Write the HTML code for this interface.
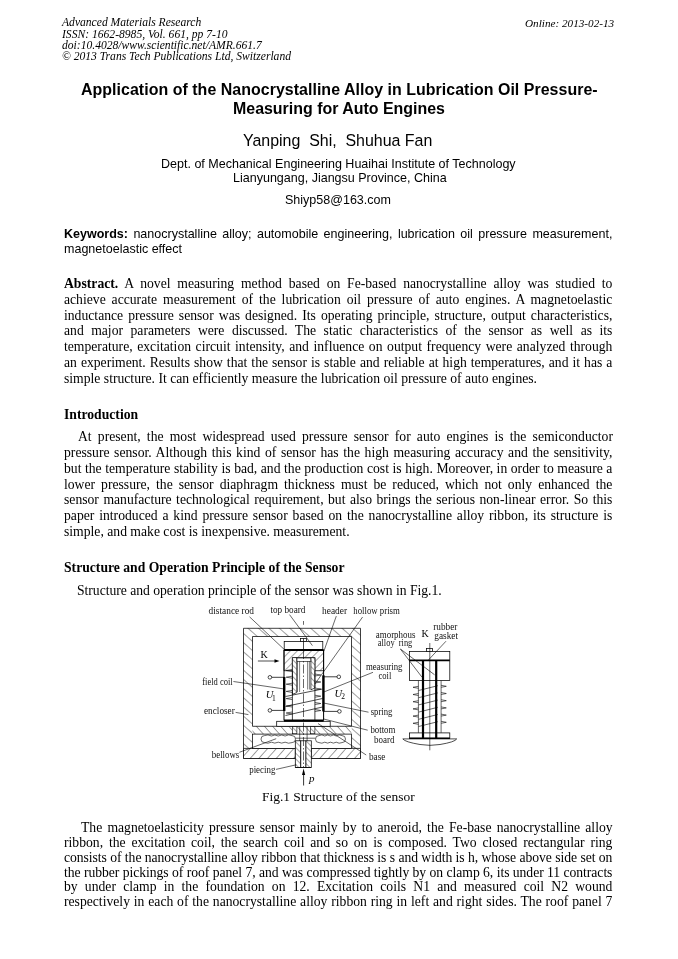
<!DOCTYPE html>
<html><head><meta charset="utf-8"><style>
html,body{margin:0;padding:0;background:#fff;}
body{width:678px;height:959px;position:relative;overflow:hidden;color:#000;}
.l{position:absolute;white-space:nowrap;will-change:transform;}
.l b{font-weight:bold;}
svg{position:absolute;left:0;top:0;}
</style></head><body>
<div class="l" id="l0" style="top:14.79px;font-family:'Liberation Serif', serif;font-size:11.6px;line-height:16px;left:62.20px;font-style:italic">Advanced Materials Research</div>
<div class="l" id="l1" style="top:26.69px;font-family:'Liberation Serif', serif;font-size:11.6px;line-height:16px;left:62.20px;font-style:italic">ISSN: 1662-8985, Vol. 661, pp 7-10</div>
<div class="l" id="l2" style="top:37.79px;font-family:'Liberation Serif', serif;font-size:11.6px;line-height:16px;left:62.20px;font-style:italic">doi:10.4028/www.scientific.net/AMR.661.7</div>
<div class="l" id="l3" style="top:48.69px;font-family:'Liberation Serif', serif;font-size:11.6px;line-height:16px;left:62.20px;font-style:italic">&copy; 2013 Trans Tech Publications Ltd, Switzerland</div>
<div class="l" id="l4" style="top:14.92px;font-family:'Liberation Serif', serif;font-size:11.2px;line-height:16px;right:63.70px;font-style:italic">Online: 2013-02-13</div>
<div class="l" id="l5" style="top:82.27px;font-family:'Liberation Sans', sans-serif;font-size:15.95px;line-height:16px;left:81.20px;font-weight:bold;letter-spacing:0.04px">Application of the Nanocrystalline Alloy in Lubrication Oil Pressure-</div>
<div class="l" id="l6" style="top:101.17px;font-family:'Liberation Sans', sans-serif;font-size:15.95px;line-height:16px;left:233.20px;font-weight:bold">Measuring for Auto Engines</div>
<div class="l" id="l7" style="top:132.87px;font-family:'Liberation Sans', sans-serif;font-size:15.95px;line-height:16px;left:242.90px;">Yanping&nbsp; Shi,&nbsp; Shuhua Fan</div>
<div class="l" id="l8" style="top:156.36px;font-family:'Liberation Sans', sans-serif;font-size:12.53px;line-height:16px;left:160.60px;">Dept. of Mechanical Engineering Huaihai Institute of Technology</div>
<div class="l" id="l9" style="top:170.16px;font-family:'Liberation Sans', sans-serif;font-size:12.53px;line-height:16px;left:232.50px;">Lianyungang, Jiangsu Province, China</div>
<div class="l" id="l10" style="top:192.16px;font-family:'Liberation Sans', sans-serif;font-size:12.53px;line-height:16px;left:285.40px;">Shiyp58@163.com</div>
<div class="l" id="l11" style="top:226.36px;font-family:'Liberation Sans', sans-serif;font-size:12.53px;line-height:16px;left:64.40px;width:548.40px;text-align:justify;text-align-last:justify;"><b>Keywords:</b> nanocrystalline alloy; automobile engineering, lubrication oil pressure measurement,</div>
<div class="l" id="l12" style="top:241.26px;font-family:'Liberation Sans', sans-serif;font-size:12.53px;line-height:16px;left:64.40px;">magnetoelastic effect</div>
<div class="l" id="l13" style="top:276.19px;font-family:'Liberation Serif', serif;font-size:13.668px;line-height:16px;left:64.40px;width:548.40px;text-align:justify;text-align-last:justify;"><b>Abstract.</b> A novel measuring method based on Fe-based nanocrystalline alloy was studied to</div>
<div class="l" id="l14" style="top:291.94px;font-family:'Liberation Serif', serif;font-size:13.668px;line-height:16px;left:64.40px;width:548.40px;text-align:justify;text-align-last:justify;">achieve accurate measurement of the lubrication oil pressure of auto engines. A magnetoelastic</div>
<div class="l" id="l15" style="top:307.69px;font-family:'Liberation Serif', serif;font-size:13.668px;line-height:16px;left:64.40px;width:548.40px;text-align:justify;text-align-last:justify;">inductance pressure sensor was designed. Its operating principle, structure, output characteristics,</div>
<div class="l" id="l16" style="top:323.44px;font-family:'Liberation Serif', serif;font-size:13.668px;line-height:16px;left:64.40px;width:548.40px;text-align:justify;text-align-last:justify;">and major parameters were discussed. The static characteristics of the sensor as well as its</div>
<div class="l" id="l17" style="top:339.19px;font-family:'Liberation Serif', serif;font-size:13.668px;line-height:16px;left:64.40px;width:548.40px;text-align:justify;text-align-last:justify;">temperature, excitation circuit intensity, and influence on output frequency were analyzed through</div>
<div class="l" id="l18" style="top:354.94px;font-family:'Liberation Serif', serif;font-size:13.668px;line-height:16px;left:64.40px;width:548.40px;text-align:justify;text-align-last:justify;">an experiment. Results show that the sensor is stable and reliable at high temperatures, and it has a</div>
<div class="l" id="l19" style="top:370.69px;font-family:'Liberation Serif', serif;font-size:13.668px;line-height:16px;left:64.40px;width:548.40px;">simple structure. It can efficiently measure the lubrication oil pressure of auto engines.</div>
<div class="l" id="l20" style="top:407.09px;font-family:'Liberation Serif', serif;font-size:13.668px;line-height:16px;left:64.40px;"><b>Introduction</b></div>
<div class="l" id="l21" style="top:429.19px;font-family:'Liberation Serif', serif;font-size:13.668px;line-height:16px;left:77.80px;width:535.00px;text-align:justify;text-align-last:justify;">At present, the most widespread used pressure sensor for auto engines is the semiconductor</div>
<div class="l" id="l22" style="top:444.96px;font-family:'Liberation Serif', serif;font-size:13.668px;line-height:16px;left:64.40px;width:548.40px;text-align:justify;text-align-last:justify;">pressure sensor. Although this kind of sensor has the high measuring accuracy and the sensitivity,</div>
<div class="l" id="l23" style="top:460.73px;font-family:'Liberation Serif', serif;font-size:13.668px;line-height:16px;left:64.40px;width:548.40px;text-align:justify;text-align-last:justify;">but the temperature stability is bad, and the production cost is high. Moreover, in order to measure a</div>
<div class="l" id="l24" style="top:476.50px;font-family:'Liberation Serif', serif;font-size:13.668px;line-height:16px;left:64.40px;width:548.40px;text-align:justify;text-align-last:justify;">lower pressure, the sensor diaphragm thickness must be reduced, which not only enhanced the</div>
<div class="l" id="l25" style="top:492.27px;font-family:'Liberation Serif', serif;font-size:13.668px;line-height:16px;left:64.40px;width:548.40px;text-align:justify;text-align-last:justify;">sensor manufacture technological requirement, but also brings the serious non-linear error. So this</div>
<div class="l" id="l26" style="top:508.04px;font-family:'Liberation Serif', serif;font-size:13.668px;line-height:16px;left:64.40px;width:548.40px;text-align:justify;text-align-last:justify;">paper introduced a kind pressure sensor based on the nanocrystalline alloy ribbon, its structure is</div>
<div class="l" id="l27" style="top:523.81px;font-family:'Liberation Serif', serif;font-size:13.668px;line-height:16px;left:64.40px;width:548.40px;">simple, and make cost is inexpensive. measurement.</div>
<div class="l" id="l28" style="top:560.19px;font-family:'Liberation Serif', serif;font-size:13.668px;line-height:16px;left:64.40px;"><b>Structure and Operation Principle of the Sensor</b></div>
<div class="l" id="l29" style="top:582.99px;font-family:'Liberation Serif', serif;font-size:13.668px;line-height:16px;left:77.20px;letter-spacing:-0.025px">Structure and operation principle of the sensor was shown in Fig.1.</div>
<div class="l" id="l30" style="top:789.06px;font-family:'Liberation Serif', serif;font-size:13.45px;line-height:16px;left:261.90px;">Fig.1 Structure of the sensor</div>
<div class="l" id="l31" style="top:820.39px;font-family:'Liberation Serif', serif;font-size:13.668px;line-height:16px;left:81.20px;width:531.60px;text-align:justify;text-align-last:justify;">The magnetoelasticity pressure sensor mainly by to aneroid, the Fe-base nanocrystalline alloy</div>
<div class="l" id="l32" style="top:835.11px;font-family:'Liberation Serif', serif;font-size:13.668px;line-height:16px;left:64.40px;width:548.40px;text-align:justify;text-align-last:justify;">ribbon, the excitation coil, the search coil and so on is composed. Two closed rectangular ring</div>
<div class="l" id="l33" style="top:849.83px;font-family:'Liberation Serif', serif;font-size:13.668px;line-height:16px;left:64.40px;width:548.40px;text-align:justify;text-align-last:justify;letter-spacing:-0.055px;">consists of the nanocrystalline alloy ribbon that thickness is s and width is h, whose above side set on</div>
<div class="l" id="l34" style="top:864.55px;font-family:'Liberation Serif', serif;font-size:13.668px;line-height:16px;left:64.40px;width:548.40px;text-align:justify;text-align-last:justify;letter-spacing:-0.05px;">the rubber pickings of roof panel 7, and was compressed tightly by on clamp 6, its under 11 contracts</div>
<div class="l" id="l35" style="top:879.27px;font-family:'Liberation Serif', serif;font-size:13.668px;line-height:16px;left:64.40px;width:548.40px;text-align:justify;text-align-last:justify;">by under clamp in the foundation on 12. Excitation coils N1 and measured coil N2 wound</div>
<div class="l" id="l36" style="top:893.99px;font-family:'Liberation Serif', serif;font-size:13.668px;line-height:16px;left:64.40px;width:548.40px;text-align:justify;text-align-last:justify;">respectively in each of the nanocrystalline alloy ribbon ring in left and right sides. The roof panel 7</div>
<svg width="678" height="959" viewBox="0 0 678 959" font-family="Liberation Serif, serif" style="position:absolute;left:0;top:0"><defs>
<pattern id="hb" patternUnits="userSpaceOnUse" width="6.9" height="6.9" patternTransform="rotate(-48.7) translate(1.7,0)"><rect width="6.9" height="6.9" fill="#fff"/><line x1="0" y1="-1" x2="0" y2="7.9" stroke="#000" stroke-width="0.75"/></pattern>
<pattern id="hf" patternUnits="userSpaceOnUse" width="6.49" height="6.49" patternTransform="rotate(41.8) translate(3.57,0)"><rect width="6.49" height="6.49" fill="#fff"/><line x1="0" y1="-1" x2="0" y2="7.49" stroke="#000" stroke-width="0.75"/></pattern>
<pattern id="hp" patternUnits="userSpaceOnUse" width="6.02" height="6.02" patternTransform="rotate(-42) translate(5.1,0)"><rect width="6.02" height="6.02" fill="#fff"/><line x1="0" y1="-1" x2="0" y2="7.02" stroke="#000" stroke-width="0.75"/></pattern>
<pattern id="hs" patternUnits="userSpaceOnUse" width="4" height="4" patternTransform="rotate(-45)"><rect width="4" height="4" fill="#fff"/><line x1="0" y1="0" x2="0" y2="4" stroke="#000" stroke-width="0.7"/></pattern>
<pattern id="hsf" patternUnits="userSpaceOnUse" width="5" height="5" patternTransform="rotate(45)"><rect width="5" height="5" fill="#fff"/><line x1="0" y1="0" x2="0" y2="5" stroke="#000" stroke-width="0.7"/></pattern>
</defs>
<path d="M243.5,628.3 H360.5 V748.4 H351.5 V636.5 H252.5 V748.4 H243.5 Z" fill="url(#hb)" stroke="none"/>
<path d="M252.5,726.3 H351.5 V734.1 H252.5 Z" fill="url(#hp)" stroke="none"/>
<path d="M243.5,628.3 H360.5 V758.5 H243.5 Z M252.5,636.5 H351.5 V726.3 H252.5 Z" fill="none" stroke="#000" stroke-width="0.75"/>
<path d="M243.5,748.4 H295.3 V758.5 H243.5 Z M311.3,748.4 H360.5 V758.5 H311.3 Z" fill="url(#hf)" stroke="#000" stroke-width="0.75"/>
<rect x="252.5" y="734.1" width="99.00" height="14.30" fill="#fff" stroke="#000" stroke-width="0.75" />
<line x1="295.0" y1="738.2" x2="315.5" y2="738.2" stroke="#000" stroke-width="0.6" />
<path d="M264.50,735.60 Q267.94,734.00 271.38,736.00 Q274.81,734.00 278.25,736.00 Q281.69,734.00 285.12,736.00 Q288.56,734.00 292.00,735.60 A3.50,3.50 0 0 1 292.00,742.60 Q288.56,744.00 285.12,742.20 Q281.69,744.00 278.25,742.20 Q274.81,744.00 271.38,742.20 Q267.94,744.00 264.50,742.60 A3.50,3.50 0 0 1 264.50,735.60 Z" fill="#fff" stroke="#000" stroke-width="0.6"/>
<path d="M319.00,735.60 Q321.88,734.00 324.75,736.00 Q327.62,734.00 330.50,736.00 Q333.38,734.00 336.25,736.00 Q339.12,734.00 342.00,735.60 A3.50,3.50 0 0 1 342.00,742.60 Q339.12,744.00 336.25,742.20 Q333.38,744.00 330.50,742.20 Q327.62,744.00 324.75,742.20 Q321.88,744.00 319.00,742.60 A3.50,3.50 0 0 1 319.00,735.60 Z" fill="#fff" stroke="#000" stroke-width="0.6"/>
<rect x="295.3" y="740.8" width="5.5" height="26.7" fill="url(#hs)" stroke="#000" stroke-width="0.75"/>
<rect x="305.8" y="740.8" width="5.5" height="26.7" fill="url(#hs)" stroke="#000" stroke-width="0.75"/>
<rect x="300.8" y="740.8" width="5.00" height="26.70" fill="#fff" stroke="#000" stroke-width="0.75" />
<line x1="295.3" y1="767.5" x2="311.3" y2="767.5" stroke="#000" stroke-width="0.75" />
<line x1="299.7" y1="726.3" x2="299.7" y2="741.0" stroke="#000" stroke-width="0.6" />
<line x1="307.1" y1="726.3" x2="307.1" y2="741.0" stroke="#000" stroke-width="0.6" />
<rect x="292.3" y="726.5" width="4.6" height="7.2" fill="url(#hs)" stroke="#000" stroke-width="0.6"/>
<rect x="310.3" y="726.5" width="4.6" height="7.2" fill="url(#hs)" stroke="#000" stroke-width="0.6"/>
<rect x="276.7" y="721.3" width="53.50" height="5.00" fill="#fff" stroke="#000" stroke-width="0.75" />
<rect x="284.2" y="641.5" width="38.60" height="8.50" fill="#fff" stroke="#000" stroke-width="0.75" />
<rect x="300.6" y="638.5" width="5.90" height="3.00" fill="#fff" stroke="#000" stroke-width="0.75" />
<path d="M284.0,650 H323.6 V670.7 H314.9 V657.6 H292.4 V670.7 H284.0 Z" fill="url(#hsf)" stroke="#000" stroke-width="0.75"/>
<path d="M292.4,657.6 H296.8 V692.5 L292.4,694.5 Z" fill="url(#hs)" stroke="#000" stroke-width="0.7"/>
<path d="M310.9,657.6 H314.9 V688.0 L310.9,689.8 Z" fill="url(#hs)" stroke="#000" stroke-width="0.7"/>
<rect x="297.0" y="658.0" width="13.80" height="3.30" fill="#fff" stroke="#000" stroke-width="0.6" />
<line x1="297.4" y1="661.3" x2="297.4" y2="692.0" stroke="#000" stroke-width="0.5" />
<line x1="299.6" y1="661.3" x2="299.6" y2="692.0" stroke="#000" stroke-width="0.5" />
<line x1="307.6" y1="661.3" x2="307.6" y2="689.5" stroke="#000" stroke-width="0.5" />
<line x1="309.4" y1="661.3" x2="309.4" y2="689.5" stroke="#000" stroke-width="0.5" />
<line x1="292.4" y1="670.7" x2="292.4" y2="720.6" stroke="#000" stroke-width="0.75" />
<line x1="314.9" y1="670.7" x2="314.9" y2="720.6" stroke="#000" stroke-width="0.75" />
<line x1="285.5" y1="696.5" x2="322.5" y2="689.0" stroke="#000" stroke-width="0.7" />
<line x1="285.5" y1="706.5" x2="322.5" y2="698.5" stroke="#000" stroke-width="0.7" />
<line x1="285.5" y1="715.5" x2="322.5" y2="707.0" stroke="#000" stroke-width="0.7" />
<path d="M292.2,669.5 L286.2,670.5 L292.2,671.5" fill="none" stroke="#000" stroke-width="0.6"/>
<path d="M292.2,676.2 L286.2,677.2 L292.2,678.2" fill="none" stroke="#000" stroke-width="0.6"/>
<path d="M292.2,683.2 L286.2,684.2 L292.2,685.2" fill="none" stroke="#000" stroke-width="0.6"/>
<path d="M292.2,690.4 L286.2,691.4 L292.2,692.4" fill="none" stroke="#000" stroke-width="0.6"/>
<path d="M292.2,697.6 L286.2,698.6 L292.2,699.6" fill="none" stroke="#000" stroke-width="0.6"/>
<path d="M292.2,705.0 L286.2,706.0 L292.2,707.0" fill="none" stroke="#000" stroke-width="0.6"/>
<path d="M292.2,712.0 L286.2,713.0 L292.2,714.0" fill="none" stroke="#000" stroke-width="0.6"/>
<path d="M314.9,674.0 L320.8,675.0 L314.9,676.0" fill="none" stroke="#000" stroke-width="0.6"/>
<path d="M314.9,681.0 L320.8,682.0 L314.9,683.0" fill="none" stroke="#000" stroke-width="0.6"/>
<path d="M314.9,688.0 L320.8,689.0 L314.9,690.0" fill="none" stroke="#000" stroke-width="0.6"/>
<path d="M314.9,695.2 L320.8,696.2 L314.9,697.2" fill="none" stroke="#000" stroke-width="0.6"/>
<path d="M314.9,702.5 L320.8,703.5 L314.9,704.5" fill="none" stroke="#000" stroke-width="0.6"/>
<path d="M314.9,709.5 L320.8,710.5 L314.9,711.5" fill="none" stroke="#000" stroke-width="0.6"/>
<line x1="284.0" y1="650.0" x2="323.6" y2="650.0" stroke="#000" stroke-width="2.2" />
<line x1="284.0" y1="720.6" x2="323.6" y2="720.6" stroke="#000" stroke-width="2.4" />
<line x1="284.0" y1="650.0" x2="284.0" y2="720.6" stroke="#000" stroke-width="1.0" />
<line x1="323.6" y1="650.0" x2="323.6" y2="720.6" stroke="#000" stroke-width="1.0" />
<line x1="284.2" y1="677.0" x2="284.2" y2="711.0" stroke="#000" stroke-width="2.4" />
<line x1="323.40000000000003" y1="675.3" x2="323.40000000000003" y2="711.4" stroke="#000" stroke-width="2.4" />
<line x1="269.9" y1="677.3" x2="284.0" y2="677.3" stroke="#000" stroke-width="0.75" />
<line x1="269.9" y1="710.4" x2="284.0" y2="710.4" stroke="#000" stroke-width="0.75" />
<line x1="323.6" y1="676.8" x2="338.8" y2="676.8" stroke="#000" stroke-width="0.75" />
<line x1="323.6" y1="711.4" x2="339.4" y2="711.4" stroke="#000" stroke-width="0.75" />
<circle cx="269.9" cy="677.3" r="1.8" fill="#fff" stroke="#000" stroke-width="0.7"/>
<circle cx="269.9" cy="710.4" r="1.8" fill="#fff" stroke="#000" stroke-width="0.7"/>
<circle cx="338.8" cy="676.8" r="1.8" fill="#fff" stroke="#000" stroke-width="0.7"/>
<circle cx="339.4" cy="711.4" r="1.8" fill="#fff" stroke="#000" stroke-width="0.7"/>
<line x1="303.5" y1="621" x2="303.5" y2="624.8" stroke="#000" stroke-width="0.6"/><line x1="303.5" y1="638.4" x2="303.5" y2="650" stroke="#000" stroke-width="0.7"/><line x1="303.5" y1="650" x2="303.5" y2="767" stroke="#000" stroke-width="0.6" stroke-dasharray="9,2,1.5,2"/>
<line x1="257.9" y1="661.0" x2="276.0" y2="661.0" stroke="#000" stroke-width="0.7" />
<path d="M279.5,661 L274.5,659.2 L274.5,662.8 Z" fill="#000"/>
<line x1="303.6" y1="785.5" x2="303.6" y2="772.0" stroke="#000" stroke-width="0.8" />
<path d="M303.6,768.5 L302.0,775 L305.2,775 Z" fill="#000"/>
<line x1="249.5" y1="616.8" x2="284.6" y2="649.8" stroke="#000" stroke-width="0.6" />
<line x1="289.5" y1="614.6" x2="312.4" y2="645.6" stroke="#000" stroke-width="0.6" />
<line x1="336.3" y1="616.1" x2="323.9" y2="651.1" stroke="#000" stroke-width="0.6" />
<line x1="362.6" y1="617.0" x2="314.9" y2="684.0" stroke="#000" stroke-width="0.6" />
<line x1="233.4" y1="681.5" x2="283.0" y2="688.8" stroke="#000" stroke-width="0.6" />
<line x1="235.6" y1="712.4" x2="248.4" y2="714.6" stroke="#000" stroke-width="0.6" />
<line x1="239.4" y1="752.3" x2="276.2" y2="738.7" stroke="#000" stroke-width="0.6" />
<line x1="276.0" y1="769.4" x2="296.2" y2="764.8" stroke="#000" stroke-width="0.6" />
<line x1="373.0" y1="672.3" x2="324.1" y2="691.9" stroke="#000" stroke-width="0.6" />
<line x1="368.5" y1="712.2" x2="324.0" y2="703.1" stroke="#000" stroke-width="0.6" />
<line x1="367.7" y1="730.2" x2="323.3" y2="718.9" stroke="#000" stroke-width="0.6" />
<line x1="366.2" y1="755.0" x2="318.0" y2="723.5" stroke="#000" stroke-width="0.6" />
<rect x="409.4" y="651.5" width="40.40" height="29.00" fill="#fff" stroke="#000" stroke-width="0.75" />
<rect x="426.5" y="648.5" width="6.00" height="3.00" fill="#fff" stroke="#000" stroke-width="0.75" />
<line x1="409.4" y1="660.4" x2="449.8" y2="660.4" stroke="#000" stroke-width="1.8" />
<line x1="418.4" y1="680.7" x2="418.4" y2="732.9" stroke="#000" stroke-width="0.6" />
<line x1="441.1" y1="680.7" x2="441.1" y2="732.9" stroke="#000" stroke-width="0.6" />
<path d="M418.4,686.3 L413.0,687.3 L418.4,688.3" fill="none" stroke="#000" stroke-width="0.6"/>
<path d="M441.1,685.3 L446.3,686.3 L441.1,687.3" fill="none" stroke="#000" stroke-width="0.6"/>
<line x1="418.6" y1="690.5" x2="437.8" y2="685.6999999999999" stroke="#000" stroke-width="0.6" />
<path d="M418.4,693.5 L413.0,694.5 L418.4,695.5" fill="none" stroke="#000" stroke-width="0.6"/>
<path d="M441.1,692.5 L446.3,693.5 L441.1,694.5" fill="none" stroke="#000" stroke-width="0.6"/>
<line x1="418.6" y1="697.7" x2="437.8" y2="692.9" stroke="#000" stroke-width="0.6" />
<path d="M418.4,700.7 L413.0,701.7 L418.4,702.7" fill="none" stroke="#000" stroke-width="0.6"/>
<path d="M441.1,699.7 L446.3,700.7 L441.1,701.7" fill="none" stroke="#000" stroke-width="0.6"/>
<line x1="418.6" y1="704.9000000000001" x2="437.8" y2="700.1" stroke="#000" stroke-width="0.6" />
<path d="M418.4,707.9 L413.0,708.9 L418.4,709.9" fill="none" stroke="#000" stroke-width="0.6"/>
<path d="M441.1,706.9 L446.3,707.9 L441.1,708.9" fill="none" stroke="#000" stroke-width="0.6"/>
<line x1="418.6" y1="712.1" x2="437.8" y2="707.3" stroke="#000" stroke-width="0.6" />
<path d="M418.4,715.1 L413.0,716.1 L418.4,717.1" fill="none" stroke="#000" stroke-width="0.6"/>
<path d="M441.1,714.1 L446.3,715.1 L441.1,716.1" fill="none" stroke="#000" stroke-width="0.6"/>
<line x1="418.6" y1="719.3000000000001" x2="437.8" y2="714.5" stroke="#000" stroke-width="0.6" />
<path d="M418.4,722.3 L413.0,723.3 L418.4,724.3" fill="none" stroke="#000" stroke-width="0.6"/>
<path d="M441.1,721.3 L446.3,722.3 L441.1,723.3" fill="none" stroke="#000" stroke-width="0.6"/>
<line x1="418.6" y1="726.5" x2="437.8" y2="721.6999999999999" stroke="#000" stroke-width="0.6" />
<rect x="409.4" y="732.9" width="40.40" height="5.40" fill="#fff" stroke="#000" stroke-width="0.75" />
<line x1="409.4" y1="738.3" x2="449.8" y2="738.3" stroke="#000" stroke-width="1.4" />
<path d="M402.8,738.9 H456.7 Q455,742 440,744.5 Q430,746.2 420,744.5 Q405,742 402.8,738.9 Z" fill="#fff" stroke="#000" stroke-width="0.7"/>
<line x1="423.0" y1="660.4" x2="423.0" y2="738.3" stroke="#000" stroke-width="2.2" />
<line x1="436.2" y1="660.4" x2="436.2" y2="738.3" stroke="#000" stroke-width="2.2" />
<line x1="429.8" y1="643" x2="429.8" y2="750.3" stroke="#000" stroke-width="0.6"/>
<line x1="400.4" y1="649.0" x2="422.0" y2="677.2" stroke="#000" stroke-width="0.6" />
<line x1="400.4" y1="649.0" x2="434.6" y2="674.8" stroke="#000" stroke-width="0.6" />
<line x1="446.0" y1="641.2" x2="428.6" y2="659.8" stroke="#000" stroke-width="0.6" />
<text x="208.6" y="614.2" font-size="9.8" textLength="45.4" lengthAdjust="spacingAndGlyphs" fill="#111">distance rod</text>
<text x="270.4" y="612.6" font-size="9.8" textLength="35.0" lengthAdjust="spacingAndGlyphs" fill="#111">top board</text>
<text x="322.0" y="614.2" font-size="9.8" textLength="25.1" lengthAdjust="spacingAndGlyphs" fill="#111">header</text>
<text x="353.3" y="614.0" font-size="9.8" textLength="46.5" lengthAdjust="spacingAndGlyphs" fill="#111">hollow prism</text>
<text x="202.2" y="684.6" font-size="9.8" textLength="30.5" lengthAdjust="spacingAndGlyphs" fill="#111">field coil</text>
<text x="204.0" y="714.2" font-size="9.8" textLength="30.8" lengthAdjust="spacingAndGlyphs" fill="#111">encloser</text>
<text x="211.8" y="757.9" font-size="9.8" textLength="27.5" lengthAdjust="spacingAndGlyphs" fill="#111">bellows</text>
<text x="249.2" y="773.0" font-size="9.8" textLength="26.2" lengthAdjust="spacingAndGlyphs" fill="#111">piecing</text>
<text x="365.9" y="670.1" font-size="9.8" textLength="36.5" lengthAdjust="spacingAndGlyphs" fill="#111">measuring</text>
<text x="378.5" y="679.1" font-size="9.8" textLength="12.9" lengthAdjust="spacingAndGlyphs" fill="#111">coil</text>
<text x="370.7" y="714.5" font-size="9.8" textLength="21.7" lengthAdjust="spacingAndGlyphs" fill="#111">spring</text>
<text x="370.4" y="733.3" font-size="9.8" textLength="25.0" lengthAdjust="spacingAndGlyphs" fill="#111">bottom</text>
<text x="374.0" y="743.1" font-size="9.8" textLength="20.4" lengthAdjust="spacingAndGlyphs" fill="#111">board</text>
<text x="368.9" y="760.4" font-size="9.8" textLength="16.5" lengthAdjust="spacingAndGlyphs" fill="#111">base</text>
<text x="375.8" y="638.4" font-size="9.8" textLength="39.6" lengthAdjust="spacingAndGlyphs" fill="#111">amorphous</text>
<text x="377.8" y="645.8" font-size="9.8" textLength="34.5" lengthAdjust="spacingAndGlyphs" fill="#111">alloy&#160;&#160;ring</text>
<text x="433.3" y="629.5" font-size="9.8" textLength="24.1" lengthAdjust="spacingAndGlyphs" fill="#111">rubber</text>
<text x="434.3" y="639.4" font-size="9.8" textLength="23.7" lengthAdjust="spacingAndGlyphs" fill="#111">gasket</text>
<text x="421.4" y="637.2" font-size="10" >K</text>
<text x="260.4" y="658.2" font-size="10" >K</text>
<text x="265.7" y="698.4" font-size="10.5" font-style="italic">U</text>
<text x="272.0" y="700.6" font-size="7.5" >1</text>
<text x="334.6" y="697.1" font-size="10.5" font-style="italic">U</text>
<text x="341.2" y="699.3" font-size="7.5" >2</text>
<text x="309.0" y="781.5" font-size="11" font-style="italic">p</text>
</svg>
</body></html>
